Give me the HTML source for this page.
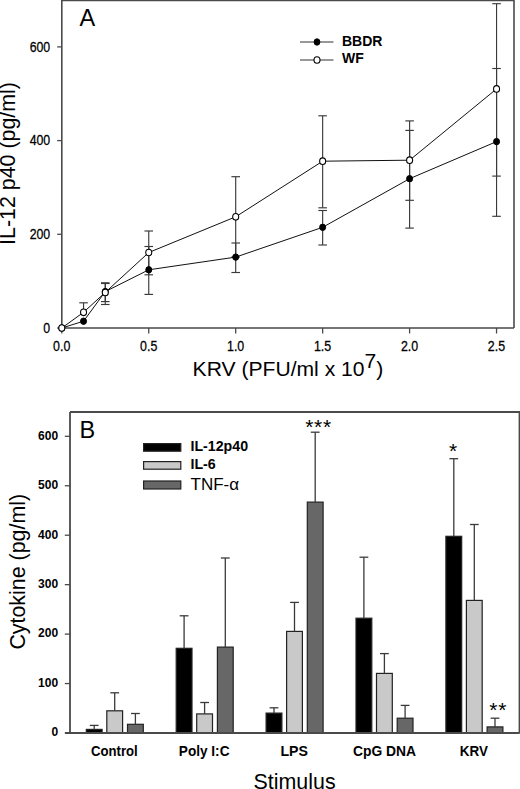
<!DOCTYPE html>
<html><head><meta charset="utf-8"><title>Figure</title><style>
html,body{margin:0;padding:0;background:#fff;width:520px;height:789px;overflow:hidden}
svg{display:block}
text{font-family:"Liberation Sans",sans-serif;fill:#000}
.ta{font-size:15.5px;stroke:#000;stroke-width:0.3px}
.tt{font-size:21.4px}
.tl{font-size:23.5px}
.lg{font-size:14px;font-weight:bold}
.tb{font-size:12px;font-weight:bold}
.xb{font-size:14px;font-weight:bold}
.lb{font-size:14.2px;font-weight:bold}
.lt{font-size:17px}
.st{font-size:21px;letter-spacing:0.8px}
</style></head><body>
<svg width="520" height="789" viewBox="0 0 520 789">
<path d="M61.8 0.5H514M514 0V328M61.8 0V328H514" fill="none" stroke="#4a4a4a" stroke-width="1.6"/>
<line x1="57.2" y1="328" x2="61.8" y2="328" stroke="#4a4a4a" stroke-width="1.3"/>
<text transform="translate(50.2,332.7) scale(0.795,1)" text-anchor="end" class="ta">0</text>
<line x1="57.2" y1="234.3" x2="61.8" y2="234.3" stroke="#4a4a4a" stroke-width="1.3"/>
<text transform="translate(50.2,239) scale(0.795,1)" text-anchor="end" class="ta">200</text>
<line x1="57.2" y1="140.6" x2="61.8" y2="140.6" stroke="#4a4a4a" stroke-width="1.3"/>
<text transform="translate(50.2,145.3) scale(0.795,1)" text-anchor="end" class="ta">400</text>
<line x1="57.2" y1="46.9" x2="61.8" y2="46.9" stroke="#4a4a4a" stroke-width="1.3"/>
<text transform="translate(50.2,51.6) scale(0.795,1)" text-anchor="end" class="ta">600</text>
<line x1="61.8" y1="328" x2="61.8" y2="333.5" stroke="#4a4a4a" stroke-width="1.3"/>
<text transform="translate(61.7,350.6) scale(0.8,1)" text-anchor="middle" class="ta">0.0</text>
<line x1="148.75" y1="328" x2="148.75" y2="333.5" stroke="#4a4a4a" stroke-width="1.3"/>
<text transform="translate(148.65,350.6) scale(0.8,1)" text-anchor="middle" class="ta">0.5</text>
<line x1="235.7" y1="328" x2="235.7" y2="333.5" stroke="#4a4a4a" stroke-width="1.3"/>
<text transform="translate(235.6,350.6) scale(0.8,1)" text-anchor="middle" class="ta">1.0</text>
<line x1="322.65" y1="328" x2="322.65" y2="333.5" stroke="#4a4a4a" stroke-width="1.3"/>
<text transform="translate(322.55,350.6) scale(0.8,1)" text-anchor="middle" class="ta">1.5</text>
<line x1="409.6" y1="328" x2="409.6" y2="333.5" stroke="#4a4a4a" stroke-width="1.3"/>
<text transform="translate(409.5,350.6) scale(0.8,1)" text-anchor="middle" class="ta">2.0</text>
<line x1="496.55" y1="328" x2="496.55" y2="333.5" stroke="#4a4a4a" stroke-width="1.3"/>
<text transform="translate(496.45,350.6) scale(0.8,1)" text-anchor="middle" class="ta">2.5</text>
<text x="192.6" y="376.2" class="tt" style="font-size:21.1px">KRV (PFU/ml x 10<tspan dy="-8">7</tspan><tspan dy="8">)</tspan></text>
<text transform="translate(15.3,163.5) rotate(-90)" text-anchor="middle" class="tt">IL-12 p40 (pg/ml)</text>
<text x="79.5" y="26" class="tl">A</text>
<g stroke="#3a3a3a" stroke-width="1.15"><line x1="105.28" y1="291.6" x2="105.28" y2="282.8"/><line x1="100.98" y1="282.8" x2="109.58" y2="282.8"/><line x1="105.28" y1="291.6" x2="105.28" y2="304.5"/><line x1="100.98" y1="304.5" x2="109.58" y2="304.5"/><line x1="148.75" y1="269.8" x2="148.75" y2="246.5"/><line x1="144.45" y1="246.5" x2="153.05" y2="246.5"/><line x1="148.75" y1="269.8" x2="148.75" y2="294.4"/><line x1="144.45" y1="294.4" x2="153.05" y2="294.4"/><line x1="235.7" y1="257.1" x2="235.7" y2="243"/><line x1="231.4" y1="243" x2="240" y2="243"/><line x1="235.7" y1="257.1" x2="235.7" y2="272.5"/><line x1="231.4" y1="272.5" x2="240" y2="272.5"/><line x1="322.65" y1="227.3" x2="322.65" y2="210.5"/><line x1="318.35" y1="210.5" x2="326.95" y2="210.5"/><line x1="322.65" y1="227.3" x2="322.65" y2="245"/><line x1="318.35" y1="245" x2="326.95" y2="245"/><line x1="409.6" y1="178.7" x2="409.6" y2="130.4"/><line x1="405.3" y1="130.4" x2="413.9" y2="130.4"/><line x1="409.6" y1="178.7" x2="409.6" y2="228.1"/><line x1="405.3" y1="228.1" x2="413.9" y2="228.1"/><line x1="496.55" y1="141.6" x2="496.55" y2="68.5"/><line x1="492.25" y1="68.5" x2="500.85" y2="68.5"/><line x1="496.55" y1="141.6" x2="496.55" y2="216.3"/><line x1="492.25" y1="216.3" x2="500.85" y2="216.3"/><line x1="83.54" y1="312.3" x2="83.54" y2="302.8"/><line x1="79.24" y1="302.8" x2="87.84" y2="302.8"/><line x1="105.28" y1="292.4" x2="105.28" y2="283.5"/><line x1="100.98" y1="283.5" x2="109.58" y2="283.5"/><line x1="105.28" y1="292.4" x2="105.28" y2="301.6"/><line x1="100.98" y1="301.6" x2="109.58" y2="301.6"/><line x1="148.75" y1="252.5" x2="148.75" y2="231"/><line x1="144.45" y1="231" x2="153.05" y2="231"/><line x1="148.75" y1="252.5" x2="148.75" y2="274.8"/><line x1="144.45" y1="274.8" x2="153.05" y2="274.8"/><line x1="235.7" y1="216.8" x2="235.7" y2="176.7"/><line x1="231.4" y1="176.7" x2="240" y2="176.7"/><line x1="235.7" y1="216.8" x2="235.7" y2="257"/><line x1="231.4" y1="257" x2="240" y2="257"/><line x1="322.65" y1="161.2" x2="322.65" y2="115.8"/><line x1="318.35" y1="115.8" x2="326.95" y2="115.8"/><line x1="322.65" y1="161.2" x2="322.65" y2="207.8"/><line x1="318.35" y1="207.8" x2="326.95" y2="207.8"/><line x1="409.6" y1="160.2" x2="409.6" y2="120.9"/><line x1="405.3" y1="120.9" x2="413.9" y2="120.9"/><line x1="409.6" y1="160.2" x2="409.6" y2="200.3"/><line x1="405.3" y1="200.3" x2="413.9" y2="200.3"/><line x1="496.55" y1="88.9" x2="496.55" y2="3.7"/><line x1="492.25" y1="3.7" x2="500.85" y2="3.7"/><line x1="496.55" y1="88.9" x2="496.55" y2="176.1"/><line x1="492.25" y1="176.1" x2="500.85" y2="176.1"/></g>
<polyline points="61.8,328 83.54,321.2 105.28,291.6 148.75,269.8 235.7,257.1 322.65,227.3 409.6,178.7 496.55,141.6" fill="none" stroke="#111" stroke-width="1"/>
<polyline points="61.8,328 83.54,312.3 105.28,292.4 148.75,252.5 235.7,216.8 322.65,161.2 409.6,160.2 496.55,88.9" fill="none" stroke="#111" stroke-width="1"/>
<ellipse cx="61.8" cy="328" rx="3.0" ry="3.2" fill="#000" stroke="#000" stroke-width="1"/>
<ellipse cx="83.54" cy="321.2" rx="3.0" ry="3.2" fill="#000" stroke="#000" stroke-width="1"/>
<ellipse cx="105.28" cy="291.6" rx="3.0" ry="3.2" fill="#000" stroke="#000" stroke-width="1"/>
<ellipse cx="148.75" cy="269.8" rx="3.0" ry="3.2" fill="#000" stroke="#000" stroke-width="1"/>
<ellipse cx="235.7" cy="257.1" rx="3.0" ry="3.2" fill="#000" stroke="#000" stroke-width="1"/>
<ellipse cx="322.65" cy="227.3" rx="3.0" ry="3.2" fill="#000" stroke="#000" stroke-width="1"/>
<ellipse cx="409.6" cy="178.7" rx="3.0" ry="3.2" fill="#000" stroke="#000" stroke-width="1"/>
<ellipse cx="496.55" cy="141.6" rx="3.0" ry="3.2" fill="#000" stroke="#000" stroke-width="1"/>
<ellipse cx="61.8" cy="328" rx="3.0" ry="3.3" fill="#fff" stroke="#000" stroke-width="1.1"/>
<ellipse cx="83.54" cy="312.3" rx="3.0" ry="3.3" fill="#fff" stroke="#000" stroke-width="1.1"/>
<ellipse cx="105.28" cy="292.4" rx="3.0" ry="3.3" fill="#fff" stroke="#000" stroke-width="1.1"/>
<ellipse cx="148.75" cy="252.5" rx="3.0" ry="3.3" fill="#fff" stroke="#000" stroke-width="1.1"/>
<ellipse cx="235.7" cy="216.8" rx="3.0" ry="3.3" fill="#fff" stroke="#000" stroke-width="1.1"/>
<ellipse cx="322.65" cy="161.2" rx="3.0" ry="3.3" fill="#fff" stroke="#000" stroke-width="1.1"/>
<ellipse cx="409.6" cy="160.2" rx="3.0" ry="3.3" fill="#fff" stroke="#000" stroke-width="1.1"/>
<ellipse cx="496.55" cy="88.9" rx="3.0" ry="3.3" fill="#fff" stroke="#000" stroke-width="1.1"/>
<line x1="300" y1="42" x2="333.5" y2="42" stroke="#333" stroke-width="1.2"/>
<ellipse cx="317" cy="42" rx="2.9" ry="3.2" fill="#000" stroke="#000"/>
<line x1="300" y1="60" x2="333.5" y2="60" stroke="#333" stroke-width="1.2"/>
<ellipse cx="317" cy="60" rx="3.0" ry="3.3" fill="#fff" stroke="#000" stroke-width="1.1"/>
<text x="342" y="46.3" class="lg">BBDR</text>
<text x="342" y="63.3" class="lg">WF</text>
<path d="M70 412H519.5V733M70 412V733H519.5M65 733H70" fill="none" stroke="#4a4a4a" stroke-width="1.8"/>
<line x1="64.8" y1="733" x2="70" y2="733" stroke="#4a4a4a" stroke-width="1.3"/>
<text x="58.1" y="736.3" text-anchor="end" class="tb">0</text>
<line x1="64.8" y1="683.55" x2="70" y2="683.55" stroke="#4a4a4a" stroke-width="1.3"/>
<text x="58.1" y="686.85" text-anchor="end" class="tb">100</text>
<line x1="64.8" y1="634.1" x2="70" y2="634.1" stroke="#4a4a4a" stroke-width="1.3"/>
<text x="58.1" y="637.4" text-anchor="end" class="tb">200</text>
<line x1="64.8" y1="584.65" x2="70" y2="584.65" stroke="#4a4a4a" stroke-width="1.3"/>
<text x="58.1" y="587.95" text-anchor="end" class="tb">300</text>
<line x1="64.8" y1="535.2" x2="70" y2="535.2" stroke="#4a4a4a" stroke-width="1.3"/>
<text x="58.1" y="538.5" text-anchor="end" class="tb">400</text>
<line x1="64.8" y1="485.75" x2="70" y2="485.75" stroke="#4a4a4a" stroke-width="1.3"/>
<text x="58.1" y="489.05" text-anchor="end" class="tb">500</text>
<line x1="64.8" y1="436.3" x2="70" y2="436.3" stroke="#4a4a4a" stroke-width="1.3"/>
<text x="58.1" y="439.6" text-anchor="end" class="tb">600</text>
<text x="79.6" y="438" class="tl">B</text>
<text transform="translate(24.6,571.75) rotate(-90)" text-anchor="middle" class="tt">Cytokine (pg/ml)</text>
<text x="294.6" y="789.1" text-anchor="middle" class="tt">Stimulus</text>
<text x="91" y="756.4" textLength="46.7" lengthAdjust="spacingAndGlyphs" class="xb">Control</text>
<text x="178.8" y="756.4" textLength="50.7" lengthAdjust="spacingAndGlyphs" class="xb">Poly I:C</text>
<text x="280.4" y="756.4" textLength="27.5" lengthAdjust="spacingAndGlyphs" class="xb">LPS</text>
<text x="353" y="756.4" textLength="63.1" lengthAdjust="spacingAndGlyphs" class="xb">CpG DNA</text>
<text x="459.8" y="756.4" textLength="28.1" lengthAdjust="spacingAndGlyphs" class="xb">KRV</text>
<rect x="86.3" y="729.4" width="15.8" height="3.6" fill="#000" stroke="#222" stroke-width="1.2"/>
<rect x="106.8" y="710.8" width="15.8" height="22.2" fill="#c9c9c9" stroke="#222" stroke-width="1.2"/>
<rect x="127.5" y="724.3" width="15.8" height="8.7" fill="#676767" stroke="#222" stroke-width="1.2"/>
<rect x="176.2" y="648.3" width="15.8" height="84.7" fill="#000" stroke="#222" stroke-width="1.2"/>
<rect x="196.7" y="713.9" width="15.8" height="19.1" fill="#c9c9c9" stroke="#222" stroke-width="1.2"/>
<rect x="217.4" y="647.1" width="15.8" height="85.9" fill="#676767" stroke="#222" stroke-width="1.2"/>
<rect x="266.1" y="713.1" width="15.8" height="19.9" fill="#000" stroke="#222" stroke-width="1.2"/>
<rect x="286.6" y="631.4" width="15.8" height="101.6" fill="#c9c9c9" stroke="#222" stroke-width="1.2"/>
<rect x="307.3" y="502.1" width="15.8" height="230.9" fill="#676767" stroke="#222" stroke-width="1.2"/>
<rect x="356" y="618.2" width="15.8" height="114.8" fill="#000" stroke="#222" stroke-width="1.2"/>
<rect x="376.5" y="673.4" width="15.8" height="59.6" fill="#c9c9c9" stroke="#222" stroke-width="1.2"/>
<rect x="397.2" y="718.2" width="15.8" height="14.8" fill="#676767" stroke="#222" stroke-width="1.2"/>
<rect x="445.9" y="536.3" width="15.8" height="196.7" fill="#000" stroke="#222" stroke-width="1.2"/>
<rect x="466.4" y="600.4" width="15.8" height="132.6" fill="#c9c9c9" stroke="#222" stroke-width="1.2"/>
<rect x="487.1" y="726.9" width="15.8" height="6.1" fill="#676767" stroke="#222" stroke-width="1.2"/>
<g stroke="#3a3a3a" stroke-width="1.3"><line x1="94.2" y1="729.4" x2="94.2" y2="725.4"/><line x1="89.8" y1="725.4" x2="98.6" y2="725.4"/><line x1="114.7" y1="710.8" x2="114.7" y2="692.8"/><line x1="110.3" y1="692.8" x2="119.1" y2="692.8"/><line x1="135.4" y1="724.3" x2="135.4" y2="713.5"/><line x1="131" y1="713.5" x2="139.8" y2="713.5"/><line x1="184.1" y1="648.3" x2="184.1" y2="615.8"/><line x1="179.7" y1="615.8" x2="188.5" y2="615.8"/><line x1="204.6" y1="713.9" x2="204.6" y2="702.5"/><line x1="200.2" y1="702.5" x2="209" y2="702.5"/><line x1="225.3" y1="647.1" x2="225.3" y2="558"/><line x1="220.9" y1="558" x2="229.7" y2="558"/><line x1="274" y1="713.1" x2="274" y2="707.8"/><line x1="269.6" y1="707.8" x2="278.4" y2="707.8"/><line x1="294.5" y1="631.4" x2="294.5" y2="602.4"/><line x1="290.1" y1="602.4" x2="298.9" y2="602.4"/><line x1="315.2" y1="502.1" x2="315.2" y2="432.2"/><line x1="310.8" y1="432.2" x2="319.6" y2="432.2"/><line x1="363.9" y1="618.2" x2="363.9" y2="557.2"/><line x1="359.5" y1="557.2" x2="368.3" y2="557.2"/><line x1="384.4" y1="673.4" x2="384.4" y2="653.6"/><line x1="380" y1="653.6" x2="388.8" y2="653.6"/><line x1="405.1" y1="718.2" x2="405.1" y2="705.4"/><line x1="400.7" y1="705.4" x2="409.5" y2="705.4"/><line x1="453.8" y1="536.3" x2="453.8" y2="458.7"/><line x1="449.4" y1="458.7" x2="458.2" y2="458.7"/><line x1="474.3" y1="600.4" x2="474.3" y2="524.5"/><line x1="469.9" y1="524.5" x2="478.7" y2="524.5"/><line x1="495" y1="726.9" x2="495" y2="718.2"/><line x1="490.6" y1="718.2" x2="499.4" y2="718.2"/></g>
<path d="M70 733H519.5" stroke="#4a4a4a" stroke-width="1.8"/>
<text x="453.5" y="457.5" text-anchor="middle" class="st">*</text>
<text x="318.6" y="433.5" text-anchor="middle" class="st">***</text>
<text x="498.2" y="716.5" text-anchor="middle" class="st">**</text>
<rect x="143.6" y="443.6" width="37.2" height="7.6" fill="#000" stroke="#222" stroke-width="1.2"/>
<rect x="143.6" y="461.6" width="37.2" height="7.6" fill="#c9c9c9" stroke="#222" stroke-width="1.2"/>
<rect x="143.6" y="481" width="37.2" height="8" fill="#676767" stroke="#222" stroke-width="1.2"/>
<text x="190.5" y="450.9" class="lb">IL-12p40</text>
<text x="190.5" y="468.6" class="lb">IL-6</text>
<text x="190.5" y="490.2" class="lt">TNF-&#945;</text>
</svg></body></html>
